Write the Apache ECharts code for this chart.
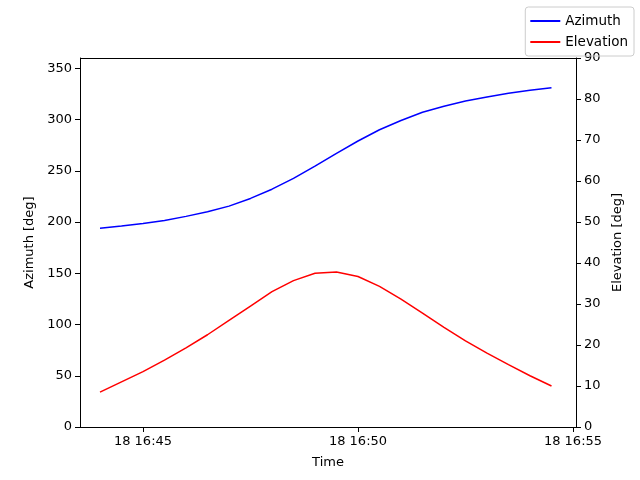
<!DOCTYPE html>
<html><head><meta charset="utf-8">
<script src="https://cdn.jsdelivr.net/npm/echarts@6/dist/echarts.min.js"></script>
<style>html,body{margin:0;padding:0;background:#fff}#c{width:640px;height:480px}</style>
</head><body><div id="c"></div>
<script>
const times = ["16:44:00","16:44:30","16:45:00","16:45:30","16:46:00","16:46:30","16:47:00","16:47:30","16:48:00","16:48:30","16:49:00","16:49:30","16:50:00","16:50:30","16:51:00","16:51:30","16:52:00","16:52:30","16:53:00","16:53:30","16:54:00","16:54:30"];
const azimuth = [194,196,198.5,201.5,205.5,210,215.5,223,232,242.5,254.5,267,279,290,299,307,313,318,322,325.5,328.5,331];
const elevation = [8.5,11,13.5,16.3,19.3,22.5,26,29.5,33,35.7,37.5,37.8,36.7,34.3,31.2,27.8,24.3,21,18,15.2,12.5,10];
const tickLabels = ["18 16:45","18 16:50","18 16:55"];
const tickMinutes = [45,50,55];
function toMin(t){const p=t.split(':').map(Number);return (p[0]-16)*60+p[1]+p[2]/60;}
const font = {fontFamily:'DejaVu Sans',fontSize:13,color:'#000'};
const axisCommon = {axisLine:{show:true,lineStyle:{color:'#000'}},axisTick:{show:true,inside:false,length:5,lineStyle:{color:'#000'}},splitLine:{show:false}};
const chart = echarts.init(document.getElementById('c'));
chart.setOption({
  animation:false,
  textStyle:{fontFamily:'DejaVu Sans'},
  grid:{left:80,right:64,top:58,bottom:53},
  legend:{right:6,top:7,orient:'vertical',itemWidth:30,itemHeight:2,itemGap:7,
    borderColor:'#ccc',borderWidth:1,borderRadius:3,padding:[7,6,7,5],
    textStyle:{...font,fontSize:13.5},icon:'rect',data:['Azimuth','Elevation']},
  xAxis:{type:'value',min:43.535,max:55.07,name:'Time',nameLocation:'middle',nameGap:29,nameTextStyle:font,
    ...axisCommon,
    axisTick:{show:true,length:5,lineStyle:{color:'#000'},customValues:tickMinutes},
    axisLabel:{...font,margin:8,customValues:tickMinutes,formatter:v=>tickLabels[tickMinutes.indexOf(Math.round(v))]}},
  yAxis:[
    {type:'value',min:0,max:360,interval:50,name:'Azimuth [deg]',nameLocation:'middle',nameGap:42,nameTextStyle:font,
      ...axisCommon,axisLabel:{...font,margin:8,showMaxLabel:false}},
    {type:'value',min:0,max:90,interval:10,name:'Elevation [deg]',nameLocation:'middle',nameGap:32,nameTextStyle:font,
      position:'right',...axisCommon,axisLabel:{...font,margin:8}}
  ],
  series:[
    {name:'Azimuth',type:'line',yAxisIndex:0,showSymbol:false,lineStyle:{color:'#0000ff',width:1.5},itemStyle:{color:'#0000ff'},
      data:times.map((t,i)=>[toMin(t),azimuth[i]])},
    {name:'Elevation',type:'line',yAxisIndex:1,showSymbol:false,lineStyle:{color:'#ff0000',width:1.5},itemStyle:{color:'#ff0000'},
      data:times.map((t,i)=>[toMin(t),elevation[i]])},
    {type:'line',xAxisIndex:0,yAxisIndex:0,silent:true,data:[],markLine:{symbol:'none',silent:true,label:{show:false},lineStyle:{color:'#000',width:1,type:'solid'},data:[{yAxis:360}]}}
  ]
});
</script></body></html>
